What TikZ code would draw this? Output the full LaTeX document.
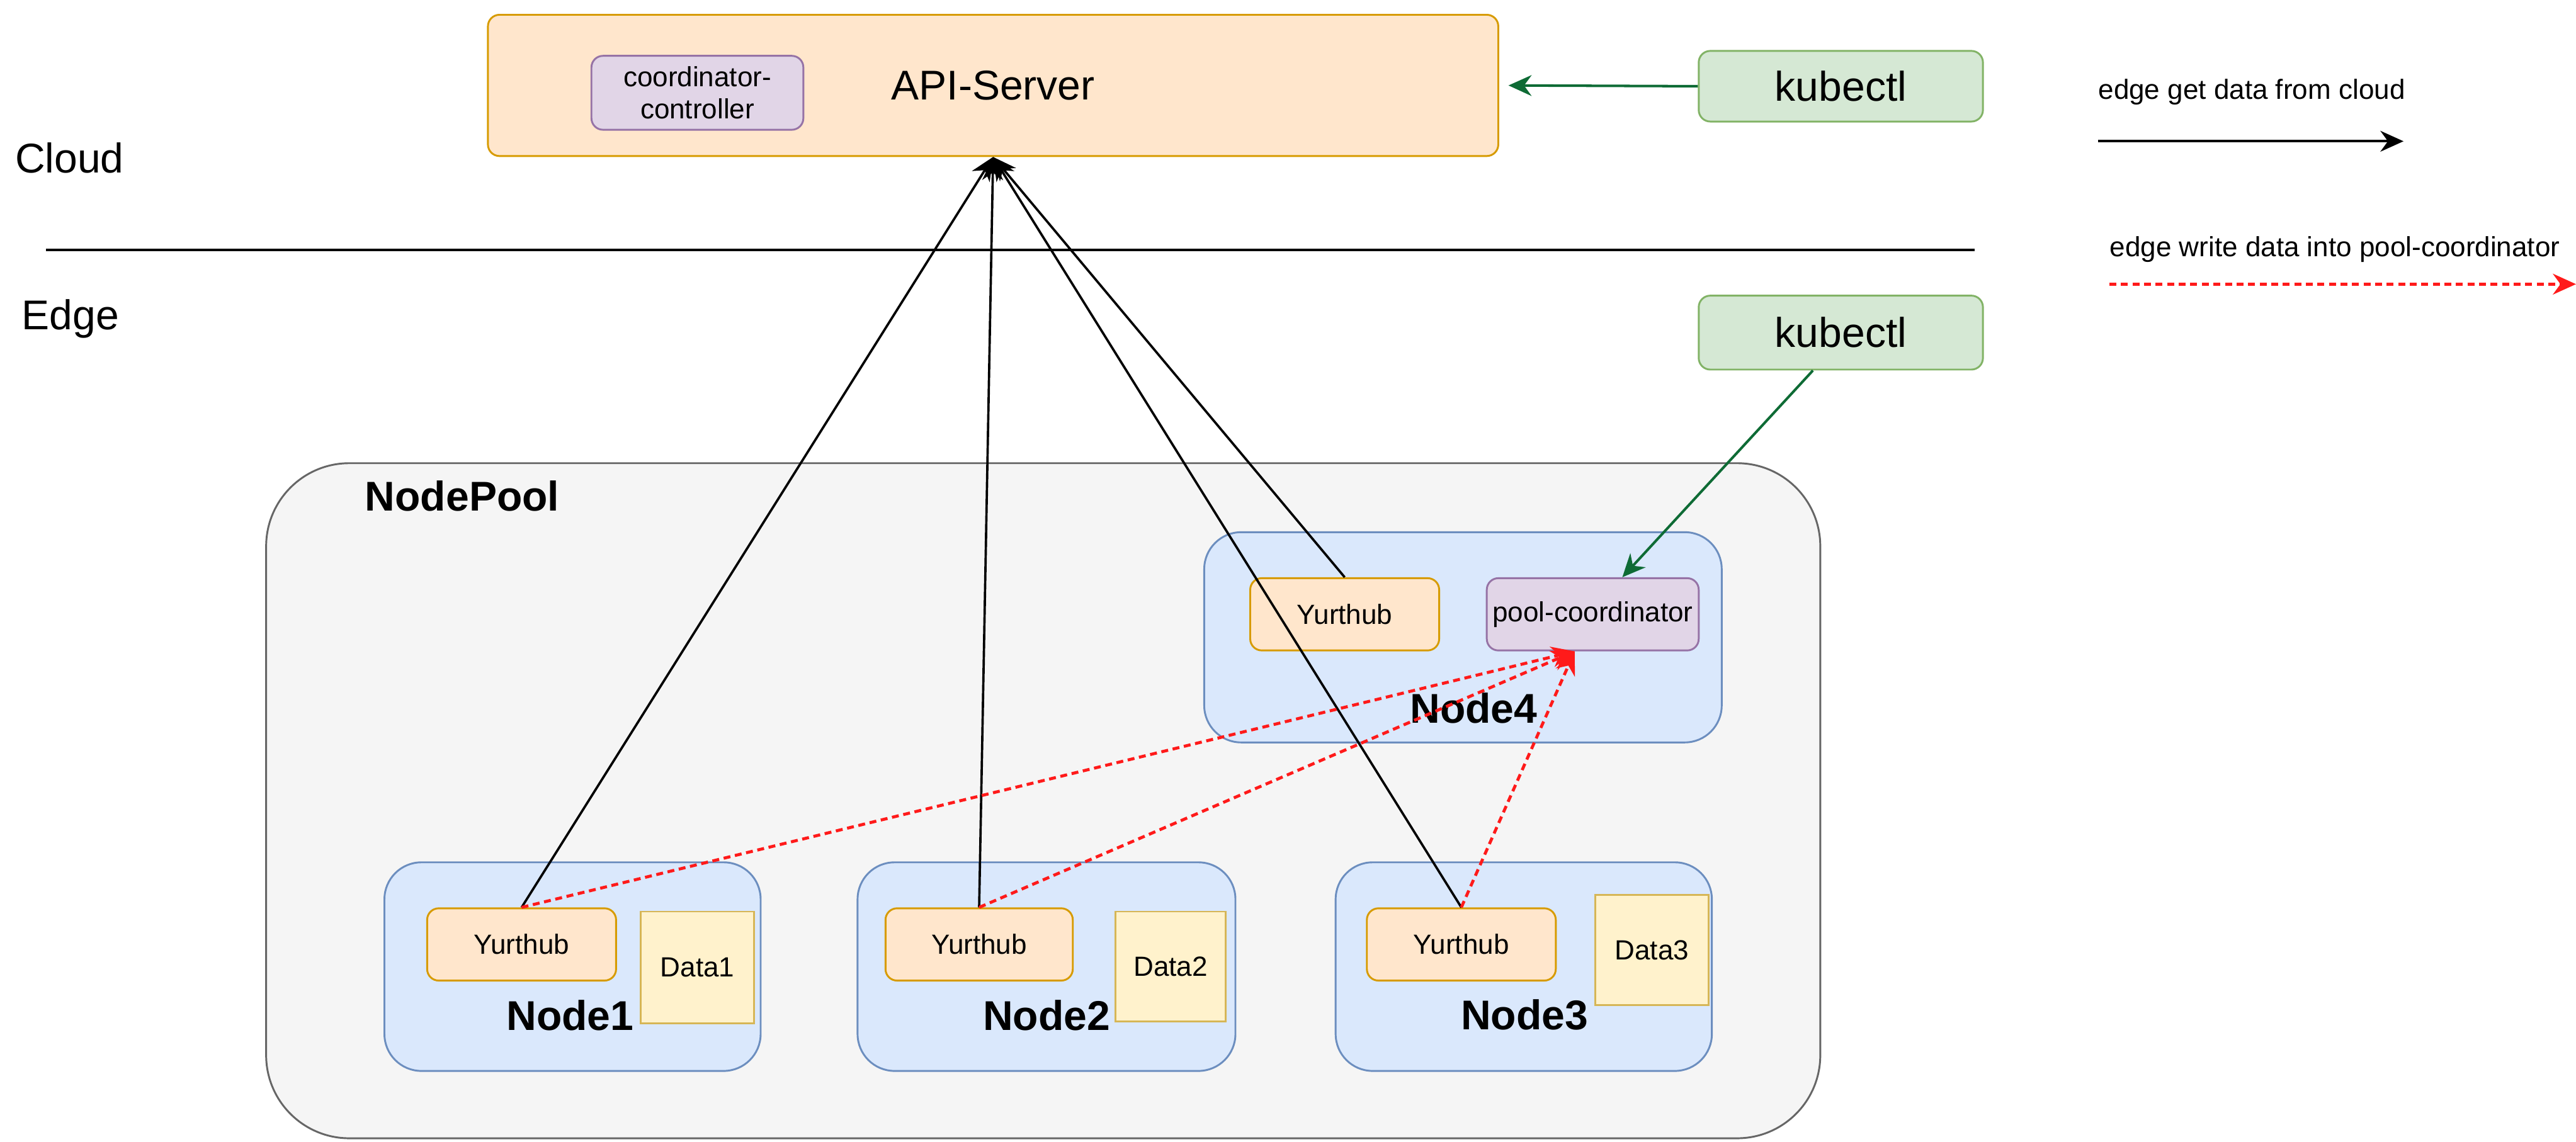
\documentclass[tikz,border=0pt]{standalone}
\usepackage{fontspec}
\setmainfont{Liberation Sans}
\usetikzlibrary{arrows.meta,calc}
\definecolor{orF}{HTML}{FFE6CC}\definecolor{orD}{HTML}{D79B00}
\definecolor{puF}{HTML}{E1D5E7}\definecolor{puD}{HTML}{9673A6}
\definecolor{grF}{HTML}{D5E8D4}\definecolor{grD}{HTML}{82B366}
\definecolor{blF}{HTML}{DAE8FC}\definecolor{blD}{HTML}{6C8EBF}
\definecolor{yeF}{HTML}{FFF2CC}\definecolor{yeD}{HTML}{D6B656}
\definecolor{gyF}{HTML}{F5F5F5}\definecolor{gyD}{HTML}{666666}
\definecolor{arrG}{HTML}{0E6B35}
\definecolor{arrR}{HTML}{FF1A1A}
\newcommand{\bigfs}{\fontsize{18}{21}\selectfont}
\newcommand{\smfs}{\fontsize{12}{14}\selectfont}
% box: style, name, x1, y1, x2, y2, text
\newcommand{\mybox}[7]{\node[#1,minimum width={(#5-#3)*0.025cm},minimum height={(#6-#4)*0.025cm}] (#2) at ({(#3+#5)/2},{(#4+#6)/2}) {#7};}
\begin{document}
\begin{tikzpicture}[x=0.025cm,y=-0.025cm,
  base/.style={rectangle,inner sep=0pt,line width=0.8pt,font=\smfs},
  orbox/.style={base,fill=orF,draw=orD,rounded corners=5pt},
  pubox/.style={base,fill=puF,draw=puD,rounded corners=5pt},
  grbox/.style={base,fill=grF,draw=grD,rounded corners=5pt,font=\bigfs},
  nodebox/.style={base,fill=blF,draw=blD,rounded corners=16pt},
  databox/.style={base,fill=yeF,draw=yeD},
  poolbox/.style={base,fill=gyF,draw=gyD,rounded corners=36pt},
  lbl/.style={inner sep=0pt,font=\bigfs\bfseries},
  plain/.style={inner sep=0pt,font=\bigfs},
  cloudarr/.style={line width=1pt,-{Stealth[length=10pt,width=9pt]}},
  poolarr/.style={draw=arrR,line width=1.3pt,dash pattern=on 3pt off 2pt,-{Stealth[length=10pt,width=9pt,fill=arrR]}},
  kubearr/.style={draw=arrG,line width=1.1pt,-{Stealth[length=10pt,width=9pt]}}
]
\useasboundingbox (0,0) rectangle (1568,695);

% cloud part
\mybox{orbox,font=\bigfs}{api}{297}{9}{912}{95}{API-Server}
\mybox{pubox,align=center}{cc}{360}{34}{489}{79}{coordinator-\\controller}
\mybox{grbox}{k1}{1034}{31}{1207}{74}{kubectl}
\mybox{grbox}{k2}{1034}{180}{1207}{225}{kubectl}

\node[plain,anchor=west] (cloud) at (9,96) {Cloud};
\node[plain,anchor=west] (edge) at (13,194) {Edge};
\coordinate (sepL) at (28,152);
\coordinate (sepR) at (1202,152);
\draw[line width=1.1pt] (sepL) -- (sepR);

% legend
\node[inner sep=0pt,font=\smfs,anchor=west] (lg1) at (1277,56) {edge get data from cloud};
\coordinate (lg1a) at (1277,86);
\coordinate (lg1b) at (1463,86);
\draw[line width=1.1pt,-{Stealth[length=10pt,width=9pt]}] (lg1a) -- (lg1b);
\node[inner sep=0pt,font=\smfs,anchor=west] (lg2) at (1284,152) {edge write data into pool-coordinator};
\coordinate (lg2a) at (1284,173);
\coordinate (lg2b) at (1568,173);
\draw[poolarr] (lg2a) -- (lg2b);

% node pool
\mybox{poolbox}{pool}{162}{282}{1108}{693}{}
\node[lbl,anchor=west] (pooltxt) at (222,302) {NodePool};

\mybox{nodebox}{n4}{733}{324}{1048}{452}{}
\mybox{orbox}{y4}{761}{352}{876}{396}{Yurthub}
\mybox{pubox}{pc}{905}{352}{1034}{396}{pool-coordinator}
\node[lbl] (n4t) at (897,431) {Node4};

\mybox{nodebox}{n1}{234}{525}{463}{652}{}
\mybox{orbox}{y1}{260}{553}{375}{597}{Yurthub}
\mybox{databox}{d1}{390}{555}{459}{623}{Data1}
\node[lbl] (n1t) at (347,618) {Node1};

\mybox{nodebox}{n2}{522}{525}{752}{652}{}
\mybox{orbox}{y2}{539}{553}{653}{597}{Yurthub}
\mybox{databox}{d2}{679}{555}{746}{622}{Data2}
\node[lbl] (n2t) at (637,618) {Node2};

\mybox{nodebox}{n3}{813}{525}{1042}{652}{}
\mybox{orbox}{y3}{832}{553}{947}{597}{Yurthub}
\mybox{databox}{d3}{971}{545}{1040}{612}{Data3}
\node[lbl] (n3t) at (928,618) {Node3};

% connectors to API server
\draw[cloudarr] (y1.north) -- (api.south);
\draw[cloudarr] (y2.north) -- (api.south);
\draw[cloudarr] (y3.north) -- (api.south);
\draw[cloudarr] (y4.north) -- (api.south);

% writes into pool-coordinator
\coordinate (pcin) at ($(pc.south)+(-11,0)$);
\draw[poolarr] (y1.north) -- (pcin);
\draw[poolarr] (y2.north) -- (pcin);
\draw[poolarr] (y3.north) -- (pcin);

% kubectl arrows
\draw[kubearr,shorten >=4pt] (k1.west) -- (api.east);
\draw[kubearr] ($(k2.south)+(-17,0)$) -- ($(pc.north)+(18,0)$);
\end{tikzpicture}
\end{document}
